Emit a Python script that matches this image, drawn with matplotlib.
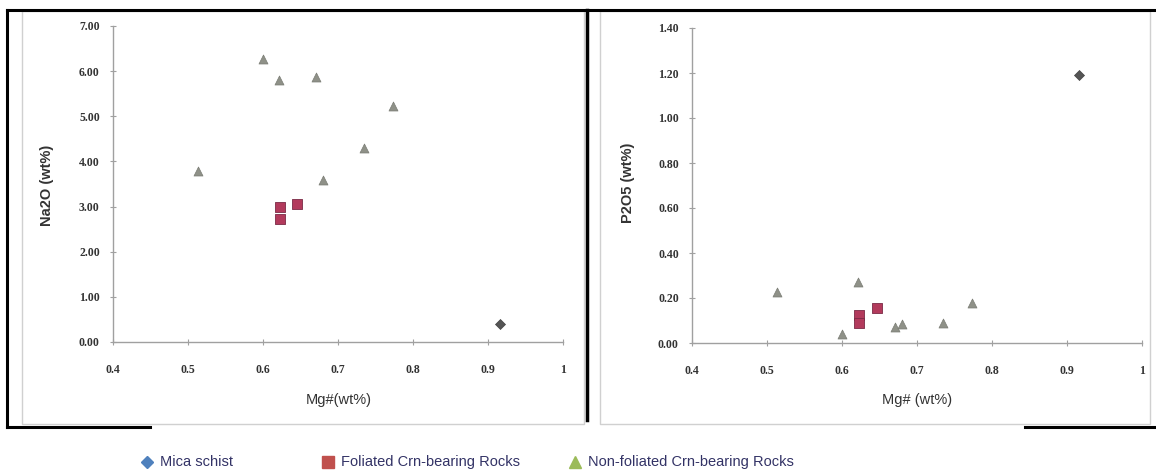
import matplotlib
matplotlib.use("Agg")
import matplotlib.pyplot as plt
from matplotlib.lines import Line2D

# ---- data ----
mica_mg = [0.916]
mica_na2o = [0.40]
mica_p2o5 = [1.19]

fol_mg = [0.623, 0.623, 0.646]
fol_na2o = [2.98, 2.73, 3.06]
fol_p2o5 = [0.124, 0.087, 0.154]

nonfol_mg = [0.513, 0.600, 0.621, 0.671, 0.680, 0.735, 0.773]
nonfol_na2o = [3.78, 6.27, 5.81, 5.87, 3.59, 4.29, 5.23]
nonfol_p2o5 = [0.228, 0.040, 0.272, 0.070, 0.085, 0.087, 0.176]

x_ticks = [0.4, 0.5, 0.6, 0.7, 0.8, 0.9, 1.0]
x_ticklabels = ["0.4", "0.5", "0.6", "0.7", "0.8", "0.9", "1"]
na_ticks = [0, 1, 2, 3, 4, 5, 6, 7]
p_ticks = [0.0, 0.2, 0.4, 0.6, 0.8, 1.0, 1.2, 1.4]

legend_labels = ["Mica schist", "Foliated Crn-bearing Rocks", "Non-foliated Crn-bearing Rocks"]

W, H = 1156, 476
fig = plt.figure(figsize=(W / 100, H / 100), dpi=100)

def px_rect(x0, y0, x1, y1):
    return [x0 / W, 1 - y1 / H, (x1 - x0) / W, (y1 - y0) / H]

def fig_line(xs, ys, color, lw):
    fig.add_artist(Line2D([x / W for x in xs], [1 - y / H for y in ys],
                          color=color, lw=lw, transform=fig.transFigure))

# chart-area borders (light gray) and black frame lines
fig_line([22, 584, 584, 22, 22], [11, 11, 424, 424, 11], "#d0d0d0", 1.0)
fig_line([600, 1150, 1150, 600, 600], [11, 11, 424, 424, 11], "#d0d0d0", 1.0)
fig_line([7, 1156], [10, 10], "black", 2.2)
fig_line([7, 7], [10, 427], "black", 2.2)
fig_line([7, 150], [427, 427], "black", 2.2)
fig_line([587, 587], [10, 420], "black", 2.5)
fig_line([1025, 1156], [427, 427], "black", 2.2)

tick_font = dict(family=["Liberation Serif", "DejaVu Serif"], size=8.5, weight="bold")
label_font = dict(family=["Liberation Sans", "DejaVu Sans"], size=10.5)

c_mica = "#555555"
c_fol = "#b23a5c"
c_non = "#8f9188"

def style_axes(ax, yticks, ylim):
    ax.set_xlim(0.4, 1.0)
    ax.set_ylim(*ylim)
    for s in ["top", "right"]:
        ax.spines[s].set_visible(False)
    for s in ["left", "bottom"]:
        ax.spines[s].set_color("#a0a0a0")
        ax.spines[s].set_linewidth(1.0)
    ax.set_xticks(x_ticks)
    ax.set_xticklabels(x_ticklabels, **tick_font, color="#333333")
    ax.set_yticks(yticks)
    ax.set_yticklabels([f"{v:.2f}" for v in yticks], **tick_font, color="#333333")
    ax.tick_params(axis="x", direction="inout", length=5, color="#a0a0a0", pad=13)
    ax.tick_params(axis="y", direction="inout", length=5, color="#a0a0a0", pad=7)
    ax.set_facecolor("none")

# left panel
ax1 = fig.add_axes(px_rect(113, 26, 563, 342))
ax1.scatter(nonfol_mg, nonfol_na2o, marker="^", s=42, color=c_non, edgecolors="#7a7c74", linewidths=0.5, zorder=3)
ax1.scatter(fol_mg, fol_na2o, marker="s", s=48, color=c_fol, edgecolors="#7a2a45", linewidths=0.6, zorder=4)
ax1.scatter(mica_mg, mica_na2o, marker="D", s=26, color=c_mica, edgecolors="#444444", linewidths=0.5, zorder=3)
style_axes(ax1, na_ticks, (0, 7))
fig.text(47 / W, 1 - 185 / H, "Na2O (wt%)", rotation=90, ha="center", va="center",
         fontweight="bold", color="#333333", **label_font)
fig.text(339 / W, 1 - 400 / H, "Mg#(wt%)", ha="center", va="center", color="#333333", **label_font)

# right panel
ax2 = fig.add_axes(px_rect(692, 28, 1142, 343))
ax2.scatter(nonfol_mg, nonfol_p2o5, marker="^", s=42, color=c_non, edgecolors="#7a7c74", linewidths=0.5, zorder=3)
ax2.scatter(fol_mg, fol_p2o5, marker="s", s=48, color=c_fol, edgecolors="#7a2a45", linewidths=0.6, zorder=4)
ax2.scatter(mica_mg, mica_p2o5, marker="D", s=26, color=c_mica, edgecolors="#444444", linewidths=0.5, zorder=3)
style_axes(ax2, p_ticks, (0, 1.4))
fig.text(628 / W, 1 - 183 / H, "P2O5 (wt%)", rotation=90, ha="center", va="center",
         fontweight="bold", color="#333333", **label_font)
fig.text(917 / W, 1 - 400 / H, "Mg# (wt%)", ha="center", va="center", color="#333333", **label_font)

# legend (entries placed like the Excel legend)
leg_markers = [("D", 6, "#4f81bd"), ("s", 9, "#c0504d"), ("^", 8, "#9bbb59")]
leg_marker_x = [147, 328, 575]
leg_y = 462
leg_font = dict(family=["Liberation Sans Narrow", "Liberation Sans", "DejaVu Sans"], size=10.5)
for (mk, ms, col), mx, lab in zip(leg_markers, leg_marker_x, legend_labels):
    fig.add_artist(Line2D([mx / W], [1 - leg_y / H], marker=mk, markersize=ms, color=col,
                          linestyle="none", transform=fig.transFigure))
    fig.text((mx + 13) / W, 1 - leg_y / H, lab, ha="left", va="center", color="#333366", **leg_font)

fig.savefig("out.png", dpi=100, facecolor="white")
